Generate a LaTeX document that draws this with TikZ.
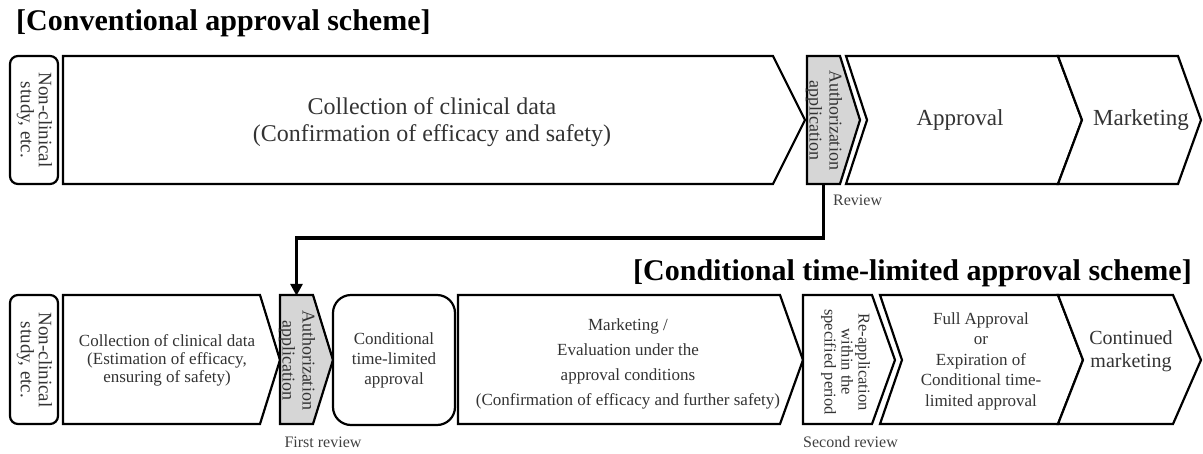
\documentclass[tikz,border=0pt]{standalone}
\usepackage{fontspec}
\setmainfont{Liberation Serif}
\usepackage{graphicx}
\usetikzlibrary{arrows.meta,positioning}

\tikzset{
  stage/.style={draw=black, line width=2.2pt, line join=miter, fill=white},
  apply/.style={stage, fill=black!16},
  txt/.style={align=center, text=black!80, inner sep=0pt},
  side/.style={txt, minimum width=33pt, minimum height=128pt},
  review/.style={text=black!75, font=\fontsize{16}{18}\selectfont, inner sep=0pt},
  title/.style={font=\bfseries\fontsize{30}{34}\selectfont, inner sep=0pt},
  flow/.style={line width=3.5pt, -{Triangle[length=12pt,width=12pt]}}
}
\newcommand{\vtext}[1]{\rotatebox{-90}{\begin{tabular}{@{}c@{}}#1\end{tabular}}}

\begin{document}
\begin{tikzpicture}[x=1pt,y=-1pt]
\useasboundingbox (0,0) rectangle (1203,453);
% Titles
\node[title, anchor=base west] (title1) at (16,30) {[Conventional approval scheme]};
\node[title, anchor=base east] (title2) at (1192,280) {[Conditional time-limited approval scheme]};

% Conventional scheme
\draw[stage, rounded corners=8pt] (10,56) rectangle (58,184);
\draw[stage] (63,56) -- (773,56) -- (805,120) -- (773,184) -- (63,184) -- cycle;
\draw[apply] (807,56) -- (840,56) -- (860,120) -- (840,184) -- (807,184) -- cycle;
\draw[stage] (846,56) -- (1058,56) -- (1082,120) -- (1058,184) -- (846,184) -- (867,120) -- cycle;
\draw[stage] (1058,56) -- (1178,56) -- (1201,120) -- (1178,184) -- (1058,184) -- (1082,120) -- cycle;
\node[txt, font=\fontsize{19}{16}\selectfont] (nc1) at (34,120) {\vtext{Non-clinical\\study, etc.}};
\node[txt, font=\fontsize{24}{27}\selectfont] (col1) at (432,122) {Collection of clinical data\\(Confirmation of efficacy and safety)};
\node[side, font=\fontsize{18}{20}\selectfont] (auth1) at (823.5,120) {\vtext{Authorization\\application}};
\node[txt, font=\fontsize{23}{27}\selectfont] (appr) at (960,120) {Approval};
\node[txt, font=\fontsize{23}{27}\selectfont] (mkt) at (1141,120) {Marketing};
\node[review, anchor=west] (rev0) at (833,200) {Review};

% Conditional time-limited scheme
\draw[stage, rounded corners=8pt] (10,295) rectangle (58,424);
\draw[stage] (63,295) -- (260,295) -- (280,360) -- (260,424) -- (63,424) -- cycle;
\draw[apply] (280,295) -- (313,295) -- (333,360) -- (313,424) -- (280,424) -- cycle;
\draw[stage, rounded corners=18pt] (333,295) rectangle (455,425);
\draw[stage] (458,295) -- (780,295) -- (803,360) -- (780,424) -- (458,424) -- cycle;
\draw[stage] (803,295) -- (872,295) -- (895,360) -- (872,424) -- (803,424) -- cycle;
\draw[stage] (880,295) -- (1058,295) -- (1083,360) -- (1058,424) -- (880,424) -- (902,360) -- cycle;
\draw[stage] (1058,295) -- (1173,295) -- (1201,360) -- (1173,424) -- (1058,424) -- (1083,360) -- cycle;
\node[txt, font=\fontsize{19}{16}\selectfont] (nc2) at (34,360) {\vtext{Non-clinical\\study, etc.}};
\node[txt, font=\fontsize{17}{18}\selectfont] (col2) at (167,360) {Collection of clinical data\\(Estimation of efficacy,\\ensuring of safety)};
\node[side, font=\fontsize{18}{20}\selectfont] (auth2) at (296.5,360) {\vtext{Authorization\\application}};
\node[txt, font=\fontsize{17}{20}\selectfont] (cond) at (394,360) {Conditional\\time-limited\\approval};
\node[txt, font=\fontsize{17}{25}\selectfont] (eval) at (628,364) {Marketing /\\Evaluation under the\\approval conditions\\(Confirmation of efficacy and further safety)};
\node[txt, font=\fontsize{16.5}{17}\selectfont] (reapp) at (845,362) {\vtext{Re-application\\within the\\specified period}};
\node[txt, font=\fontsize{17}{20.5}\selectfont] (full) at (981,361) {Full Approval\\or\\Expiration of\\Conditional time-\\limited approval};
\node[txt, font=\fontsize{20}{23}\selectfont] (cont) at (1131,351) {Continued\\marketing};
\node[review] (rev1) at (323,442) {First review};
\node[review, anchor=west] (rev2) at (803,442) {Second review};

% Review leads to first review
\draw[flow] (auth1.south) -- (auth1.south |- 0,238) -| (auth2.north);
\end{tikzpicture}
\end{document}
